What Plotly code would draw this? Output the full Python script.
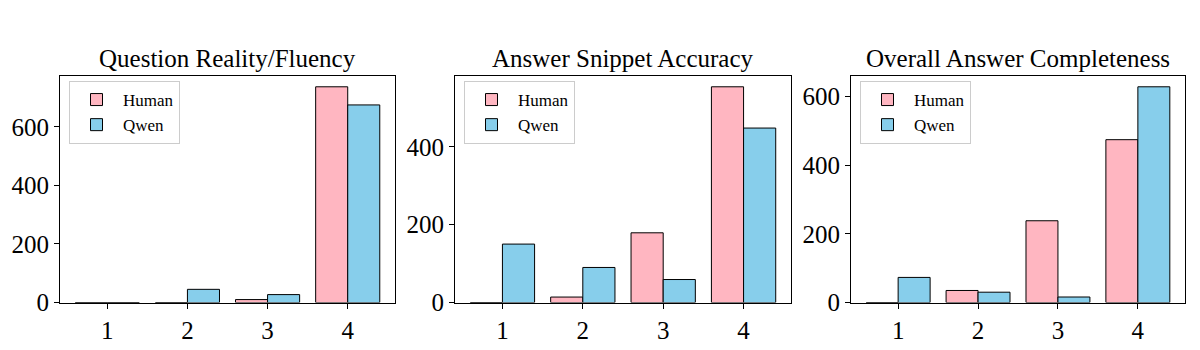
import plotly.graph_objects as go
from plotly.subplots import make_subplots

# puntuaciones 1..4
puntuaciones = [1, 2, 3, 4]

titulos = ["Question Reality/Fluency", "Answer Snippet Accuracy", "Overall Answer Completeness"]

human_fluidez = [0, 0, 10, 737]
qwen_fluidez = [0, 45, 27, 675]

human_snippet = [0, 14, 179, 554]
qwen_snippet = [150, 90, 59, 448]

human_complet = [0, 35, 238, 474]
qwen_complet = [73, 30, 16, 628]

series_human = [human_fluidez, human_snippet, human_complet]
series_qwen = [qwen_fluidez, qwen_snippet, qwen_complet]

ROSA = '#FFB6C1'
AZUL = '#87CEEB'
FUENTE = 'Liberation Serif'

W, H = 1200, 350
OFF = 8  # margen del body de la pagina


def px_x(p):
    return (p - OFF) / W


def px_y(p):
    return (H - (p - OFF)) / H


dominios_x = [[px_x(60), px_x(395)], [px_x(455), px_x(791)], [px_x(851), px_x(1185)]]
dominio_y = [px_y(302.5), px_y(76)]

fig = make_subplots(rows=1, cols=3)

for i in range(3):
    leyenda = 'legend' if i == 0 else f'legend{i + 1}'
    fig.add_trace(go.Bar(x=puntuaciones, y=series_human[i], name='Human',
                         marker=dict(color=ROSA, line=dict(color='black', width=1)),
                         legend=leyenda), row=1, col=i + 1)
    fig.add_trace(go.Bar(x=puntuaciones, y=series_qwen[i], name='Qwen',
                         marker=dict(color=AZUL, line=dict(color='black', width=1)),
                         legend=leyenda), row=1, col=i + 1)

    tope = max(max(series_human[i]), max(series_qwen[i])) * 1.05
    sufijo = '' if i == 0 else str(i + 1)
    fig.update_layout(**{
        'xaxis' + sufijo: dict(domain=dominios_x[i], range=[0.41, 4.59], tickvals=puntuaciones,
                               showline=True, mirror=True, linecolor='black', linewidth=1,
                               ticks='outside', ticklen=5, tickcolor='black', showgrid=False,
                               zeroline=False, automargin=False,
                               tickfont=dict(size=25, color='black')),
        'yaxis' + sufijo: dict(domain=dominio_y, range=[0, tope], dtick=200,
                               showline=True, mirror=True, linecolor='black', linewidth=1,
                               ticks='outside', ticklen=5, tickcolor='black', showgrid=False,
                               zeroline=False, automargin=False,
                               tickfont=dict(size=25, color='black')),
        leyenda: dict(x=px_x(69), y=px_y(81),
                      xanchor='left', yanchor='top', bgcolor='white',
                      bordercolor='#cccccc', borderwidth=1,
                      font=dict(family=FUENTE, size=17, color='black'),
                      itemwidth=43, tracegroupgap=0),
    })
    # mover la leyenda al panel que corresponde
    fig.layout[leyenda].x = dominios_x[i][0] + 9 / W

    # titulo de cada panel
    fig.add_annotation(text=titulos[i], xref='paper', yref='paper',
                       x=(dominios_x[i][0] + dominios_x[i][1]) / 2, y=dominio_y[1],
                       xanchor='center', yanchor='bottom', yshift=2, showarrow=False,
                       font=dict(family=FUENTE, size=25, color='black'))

fig.update_layout(
    width=W, height=H,
    margin=dict(l=0, r=0, t=0, b=0, autoexpand=False),
    barmode='group', bargap=0.2, bargroupgap=0,
    plot_bgcolor='white', paper_bgcolor='white',
    font=dict(family=FUENTE, color='black'),
    showlegend=True,
)

fig.write_html("out.html")
